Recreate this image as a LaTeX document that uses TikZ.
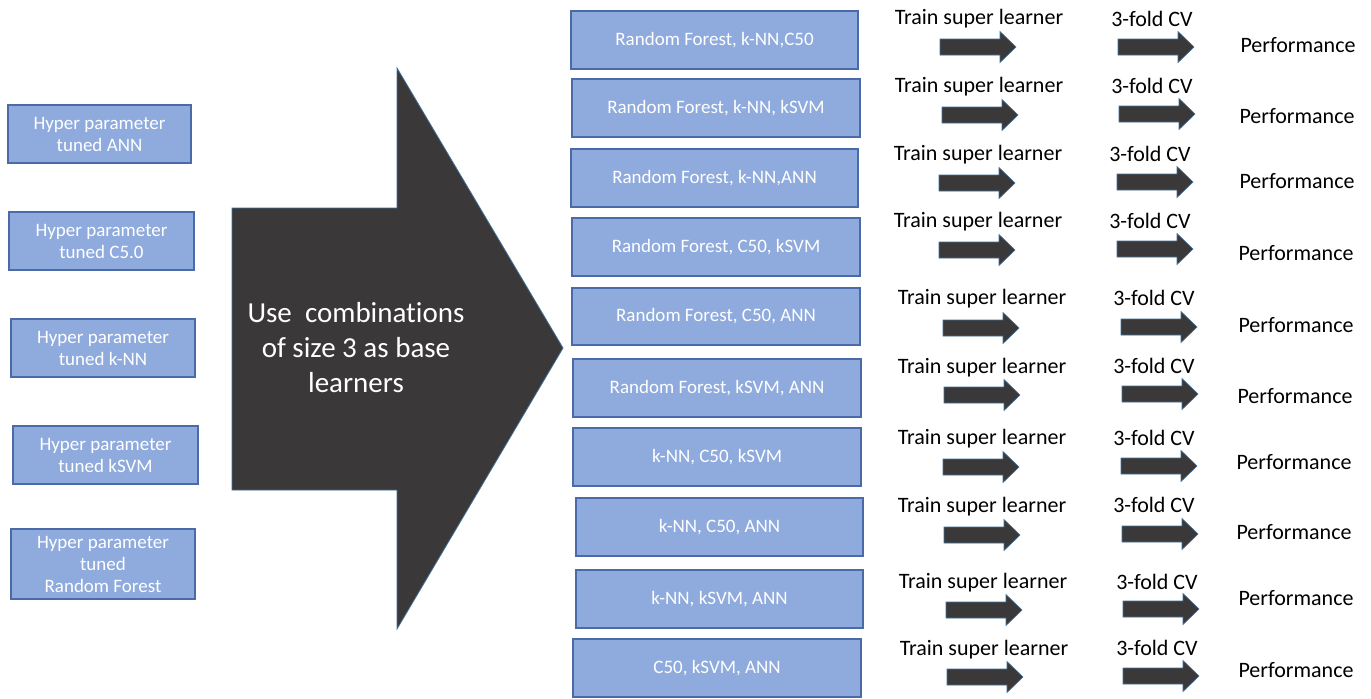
\documentclass[tikz,border=0pt]{standalone}
\usepackage{fontspec}
\setmainfont{Carlito}[Ligatures={NoCommon}]
\definecolor{boxfill}{HTML}{8FAADC}
\definecolor{boxline}{HTML}{4A6BA8}
\definecolor{arrowfill}{HTML}{3A3838}
\definecolor{arrowline}{HTML}{41719C}
\begin{document}
\begin{tikzpicture}[x=0.5pt,y=-0.5pt,
  box/.style={draw=boxline, line width=0.6pt, fill=boxfill, text=white,
    font=\fontsize{9.5}{11}\selectfont, align=center, inner sep=0pt},
  lbox/.style={box, minimum height=29pt, minimum width=92pt},
  rbox/.style={box, minimum height=29pt, minimum width=144pt},
  lbl/.style={font=\fontsize{11}{13}\selectfont, inner sep=0pt, text=black, yshift=-0.8pt},
  bigtext/.style={text=white, font=\fontsize{14.5}{17.5}\selectfont, align=center, inner sep=0pt},
  fatarrow/.pic={\fill[arrowfill, draw=arrowline, line width=0.3pt]
     (0,-8) -- (60,-8) -- (60,-15.5) -- (76,0) -- (60,15.5) -- (60,8) -- (0,8) -- cycle;}
]
\useasboundingbox (0,0) rectangle (1371,698);
\fill[white] (0,0) rectangle (1371,698);

% left boxes
\node[lbox, minimum width=91.5pt] (l1) at (99.5,134) {Hyper parameter\\tuned ANN};
\node[lbox, minimum width=92.5pt] (l2) at (101.5,241) {Hyper parameter\\tuned C5.0};
\node[lbox] (l3) at (103,348) {Hyper parameter\\tuned k-NN};
\node[lbox, minimum width=92.5pt] (l4) at (105.5,455) {Hyper parameter\\tuned kSVM};
\node[lbox, minimum height=35pt] (l5) at (103,564) {Hyper parameter\\tuned\\Random Forest};

% big arrow
\fill[arrowfill, draw=arrowline, line width=0.4pt]
  (232,208) -- (397,208) -- (397,68) -- (563,348) -- (397,629) -- (397,490) -- (232,490) -- cycle;
\node[bigtext] (bigtxt) at (356,348) {Use\ \ combinations\\of size 3 as base\\learners};

% right boxes
\node[rbox, minimum width=143.5pt] (r1) at (714.5,40) {Random Forest, k-NN,C50};
\node[rbox] (r2) at (716,108) {Random Forest, k-NN, kSVM};
\node[rbox, minimum width=143.5pt] (r3) at (714.5,178) {Random Forest, k-NN,ANN};
\node[rbox] (r4) at (716,247) {Random Forest, C50, kSVM};
\node[rbox, minimum height=28.5pt] (r5) at (716,316.5) {Random Forest, C50, ANN};
\node[rbox] (r6) at (717,388) {Random Forest, kSVM, ANN};
\node[rbox] (r7) at (717,457) {k-NN, C50, kSVM};
\node[rbox, minimum width=143.5pt] (r8) at (719.5,527) {k-NN, C50, ANN};
\node[rbox, minimum width=143.5pt] (r9) at (719.5,599) {k-NN, kSVM, ANN};
\node[rbox] (r10) at (717,668) {C50, kSVM, ANN};

% rows of labels and block arrows
\foreach \i/\tx/\ty/\ax/\ay/\cx/\cy/\bx/\by/\px/\py in {
  1/979/17/940/47/1152/17/1118/47/1298/43,
  2/979/85/942/115/1152/84/1119/114/1297/114,
  3/978/153/939/183/1150/152/1117/182/1297/179,
  4/978/220/939/250/1150/219/1117/249/1296/251,
  5/982/297/943/328/1154/296/1121/327/1296/323,
  6/982/366/944/395/1154/364/1122/394/1295/394,
  7/982/437/943/467/1154/436/1121/466/1294/460,
  8/982/505/944/535/1154/503/1122/534/1294/530,
  9/983/581/946/610/1157/580/1123/609/1296/596,
  10/984/648/947/677/1157/646/1123/676/1296/668}{
  \node[lbl] (tsl\i) at (\tx,\ty) {Train super learner};
  \pic (fa\i) at (\ax,\ay) {fatarrow};
  \node[lbl] (cv\i) at (\cx,\cy) {3-fold CV};
  \pic (fb\i) at (\bx,\by) {fatarrow};
  \node[lbl] (perf\i) at (\px,\py) {Performance};
}
\end{tikzpicture}
\end{document}
